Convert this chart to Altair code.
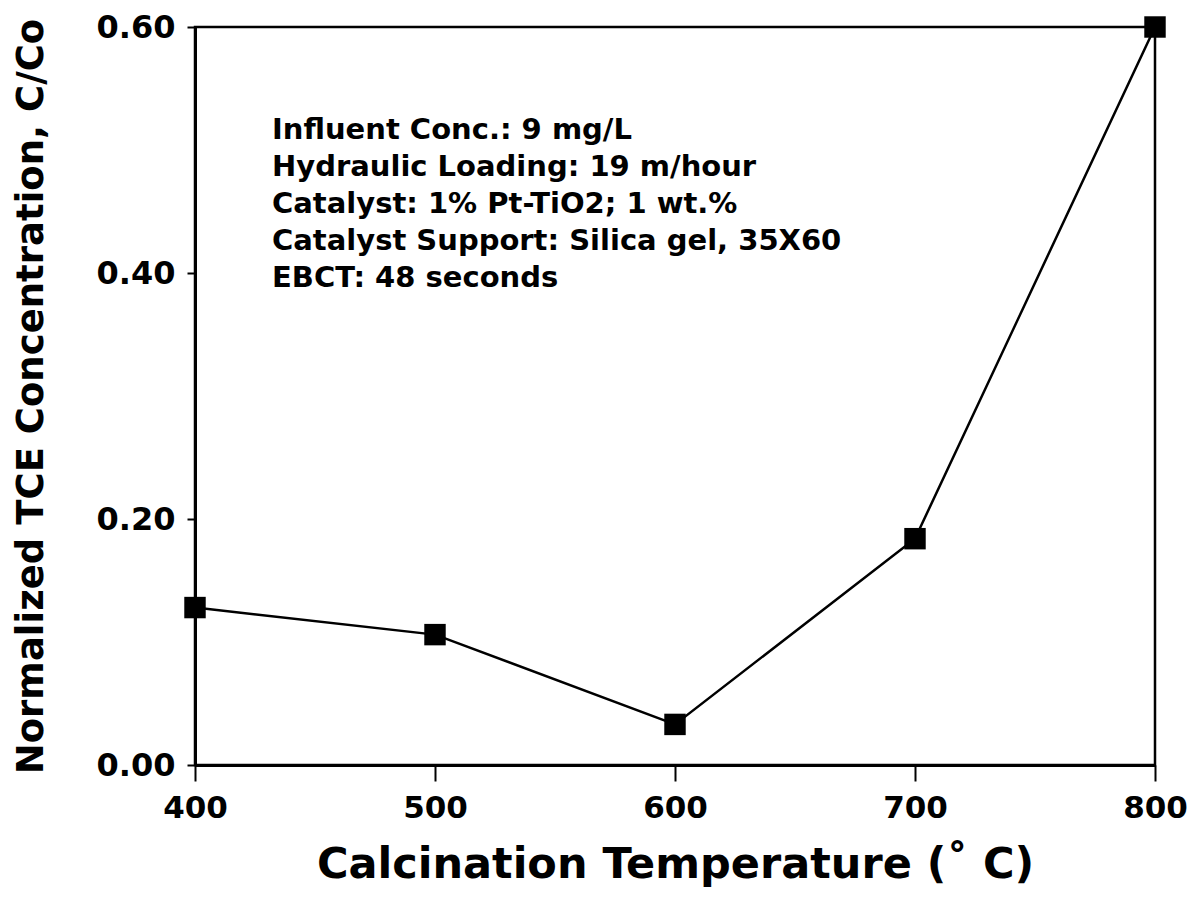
import altair as alt
import pandas as pd

temperature = [400, 500, 600, 700, 800]
concentration = [0.128, 0.106, 0.033, 0.184, 0.600]
annotation_lines = [
    "Influent Conc.: 9 mg/L",
    "Hydraulic Loading: 19 m/hour",
    "Catalyst: 1% Pt-TiO2; 1 wt.%",
    "Catalyst Support: Silica gel, 35X60",
    "EBCT: 48 seconds",
]
x_ticks = [400, 500, 600, 700, 800]
y_ticks = [0.0, 0.2, 0.4, 0.6]

df = pd.DataFrame({"T": temperature, "C": concentration})
FONT = "DejaVu Sans"

x = alt.X("T:Q", scale=alt.Scale(domain=[400, 800], nice=False),
          axis=alt.Axis(values=x_ticks, title="Calcination Temperature (\u02da C)", grid=False,
                        format="d", labelFontSize=31, labelFont=FONT, labelFontWeight="bold",
                        labelColor="black", labelPadding=12, tickSize=16, tickWidth=2,
                        tickColor="black", domainColor="black", domainWidth=3,
                        titleFontSize=43, titleFont=FONT, titleFontWeight="bold",
                        titleColor="black", titlePadding=20, labelFlush=False))
y = alt.Y("C:Q", scale=alt.Scale(domain=[0, 0.6], nice=False),
          axis=alt.Axis(values=y_ticks, title="Normalized TCE Concentration, C/Co", grid=False,
                        format=".2f", labelFontSize=32, labelFont=FONT, labelFontWeight="bold",
                        labelColor="black", labelPadding=12, tickSize=8, tickWidth=2,
                        tickColor="black", domainColor="black", domainWidth=3,
                        titleFontSize=37, titleFont=FONT, titleFontWeight="bold",
                        titleColor="black", titlePadding=46, labelFlush=False))

line = alt.Chart(df).mark_line(color="black", strokeWidth=2.5, clip=False).encode(x=x, y=y)
pts = alt.Chart(df).mark_square(color="black", opacity=1, size=460, clip=False).encode(x=x, y=y)

note = alt.Chart(pd.DataFrame({"a": [0]})).mark_text(
    align="left", baseline="top", font=FONT, fontWeight="bold", fontSize=29,
    lineHeight=37, color="black"
).encode(x=alt.value(77), y=alt.value(89), text=alt.value(annotation_lines))

chart = alt.layer(line, pts, note).properties(
    width=960, height=738,
    autosize=alt.AutoSizeParams(type="none"),
    padding={"left": 187, "top": 19, "right": 35, "bottom": 126},
).configure(background="white").configure_view(stroke="black", strokeWidth=2.5)

chart.save("out.html", embed_options={"renderer": "svg", "actions": False})
